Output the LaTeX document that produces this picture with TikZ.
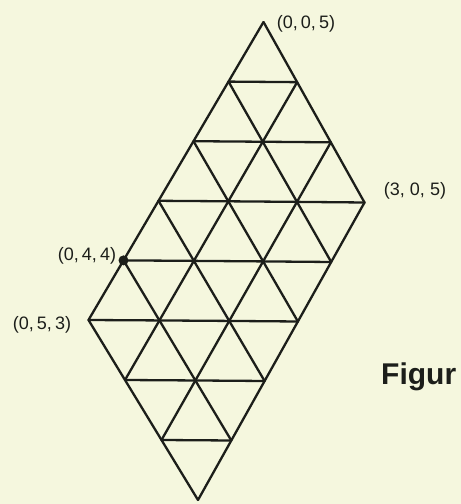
\documentclass[tikz,border=0pt]{standalone}
\usepackage{fontspec}
\setmainfont{Liberation Sans}
\definecolor{paper}{RGB}{245,247,222}
\definecolor{ink}{RGB}{28,30,26}
\begin{document}
\begin{tikzpicture}[x=1pt,y=1pt,
  gridline/.style={draw=ink,line width=2.3pt,line cap=round},
  lab/.style={text=ink,font=\fontsize{18}{18}\selectfont,inner sep=0pt},
  figlab/.style={text=ink,font=\bfseries\fontsize{30}{30}\selectfont,inner sep=0pt,anchor=base west}]
\useasboundingbox[fill=paper] (0,0) rectangle (461,504);
\foreach \i in {0,...,3}{
  \foreach \j in {0,...,5}{
    \pgfmathsetmacro\u{\i/3}
    \pgfmathsetmacro\v{\j/5}
    \pgfmathsetmacro\px{(1-\u)*(1-\v)*263.5+\u*(1-\v)*364.5+(1-\u)*\v*88.5+\u*\v*198}
    \pgfmathsetmacro\py{(1-\u)*(1-\v)*482+\u*(1-\v)*301.5+(1-\u)*\v*184+\u*\v*4}
    \coordinate (p\i\j) at (\px,\py);
  }
}
% lines of constant j
\foreach \j in {0,...,5}{\draw[gridline] (p0\j) -- (p3\j);}
% lines of constant i
\foreach \i in {0,...,3}{\draw[gridline] (p\i0) -- (p\i5);}
% horizontal diagonals
\foreach \i in {0,1,2}{
  \foreach \j in {0,...,4}{
    \pgfmathtruncatemacro\ii{\i+1}
    \pgfmathtruncatemacro\jj{\j+1}
    \draw[gridline] (p\i\jj) -- (p\ii\j);
  }
}
\fill[ink] (p04) circle (5);
\node[lab] (l005) at (306,480) {(0,\,0,\,5)};
\node[lab] (l305) at (415,313) {(3,\;0,\;5)};
\node[lab] (l044) at (87,248) {(0,\,4,\,4)};
\node[lab] (l053) at (42,179) {(0,\,5,\,3)};
\node[figlab] (fig) at (381,119) {Figur};
\end{tikzpicture}
\end{document}
